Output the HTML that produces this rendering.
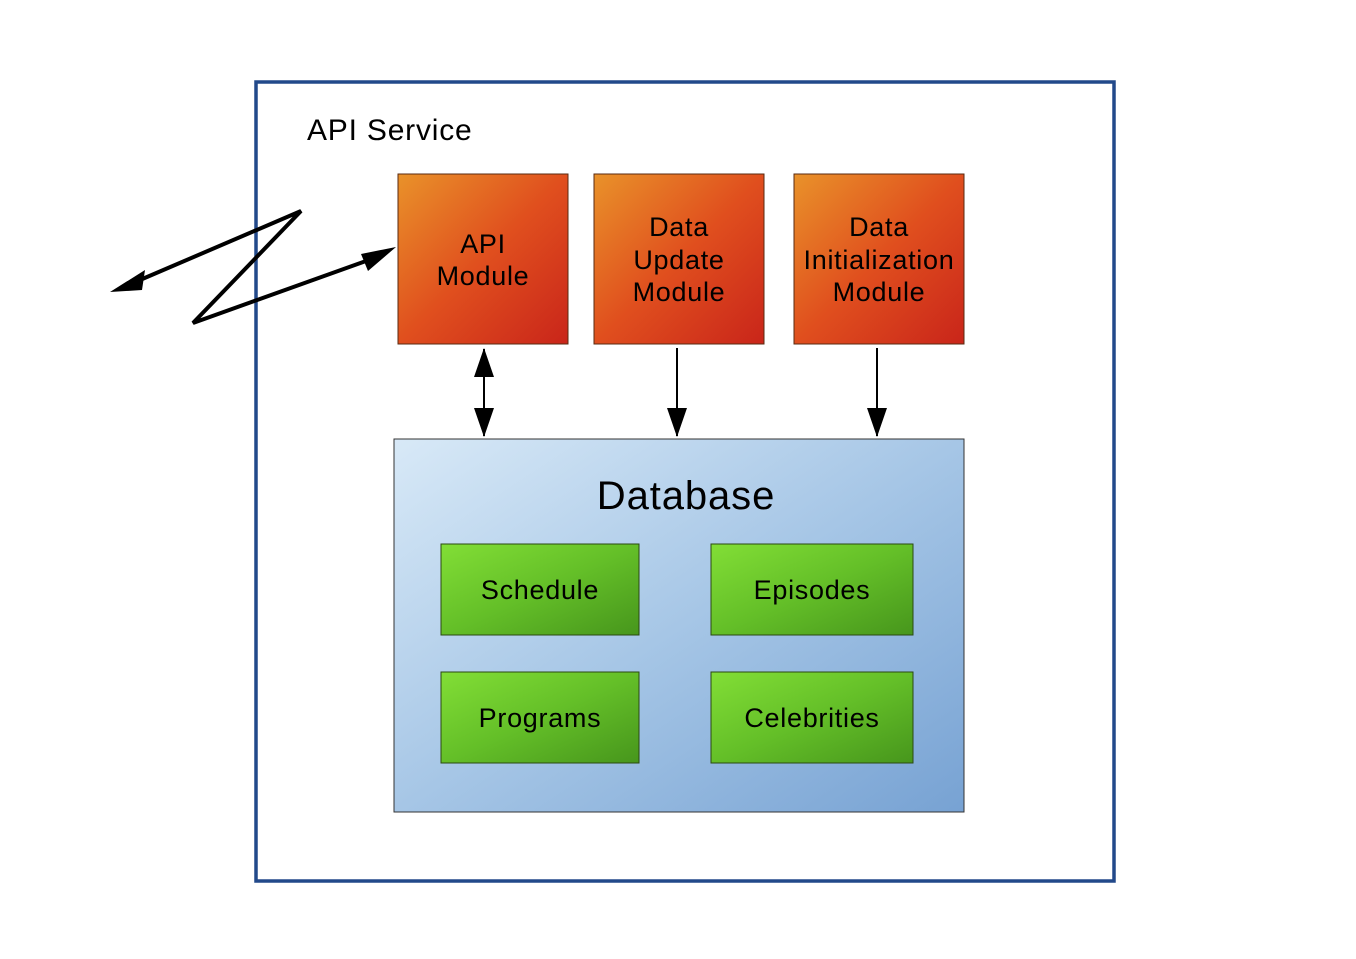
<!DOCTYPE html>
<html><head><style>body{margin:0;background:#fff}</style></head><body>
<svg width="1356" height="959" xmlns="http://www.w3.org/2000/svg" style="display:block;font-family:'Liberation Sans',sans-serif">
<defs>
<linearGradient id="o" x1="0" y1="0" x2="1" y2="1"><stop offset="0" stop-color="#e9922a"/><stop offset="0.5" stop-color="#e04f1e"/><stop offset="1" stop-color="#c9251a"/></linearGradient>
<linearGradient id="b" x1="0" y1="0" x2="1" y2="1"><stop offset="0" stop-color="#d8e9f7"/><stop offset="0.5" stop-color="#a6c6e6"/><stop offset="1" stop-color="#77a2d3"/></linearGradient>
<linearGradient id="g" x1="0" y1="0" x2="1" y2="1"><stop offset="0" stop-color="#82de36"/><stop offset="0.5" stop-color="#64bf28"/><stop offset="1" stop-color="#47961c"/></linearGradient>
</defs>
<rect x="256" y="82" width="858" height="799" fill="none" stroke="#22498a" stroke-width="3.5"/>
<text x="307" y="140" font-size="30" letter-spacing="0.8">API Service</text>
<rect x="398" y="174" width="170" height="170" fill="url(#o)" stroke="#5a2a10"/>
<rect x="594" y="174" width="170" height="170" fill="url(#o)" stroke="#5a2a10"/>
<rect x="794" y="174" width="170" height="170" fill="url(#o)" stroke="#5a2a10"/>
<g font-size="27" text-anchor="middle" fill="#000" letter-spacing="0.7">
<text x="483" y="253">API</text><text x="483" y="285">Module</text>
<text x="679" y="236">Data</text><text x="679" y="269">Update</text><text x="679" y="301">Module</text>
<text x="879" y="236">Data</text><text x="879" y="269">Initialization</text><text x="879" y="301">Module</text>
</g>
<rect x="394" y="439" width="570" height="373" fill="url(#b)" stroke="#333"/>
<text x="686" y="509" font-size="40" text-anchor="middle" letter-spacing="0.9">Database</text>
<g stroke="#2a4a10" fill="url(#g)">
<rect x="441" y="544" width="198" height="91"/><rect x="711" y="544" width="202" height="91"/>
<rect x="441" y="672" width="198" height="91"/><rect x="711" y="672" width="202" height="91"/>
</g>
<g font-size="27" text-anchor="middle" letter-spacing="0.7">
<text x="540" y="599">Schedule</text><text x="812" y="599">Episodes</text>
<text x="540" y="727">Programs</text><text x="812" y="727">Celebrities</text>
</g>
<g stroke="#000" stroke-width="2" fill="none">
<line x1="484" y1="349" x2="484" y2="436"/>
<line x1="677" y1="348" x2="677" y2="436"/>
<line x1="877" y1="348" x2="877" y2="436"/>
</g>
<g fill="#000">
<path d="M484,348L474,377L494,377z"/><path d="M484,437L474,408L494,408z"/>
<path d="M677,437L667,408L687,408z"/><path d="M877,437L867,408L887,408z"/>
<path d="M110,292L145,270L142,290z"/><path d="M396,247L368,271L361,254z"/>
</g>
<polyline points="140,280 301,211 193,323 366,261" fill="none" stroke="#000" stroke-width="4" stroke-linejoin="miter"/>
</svg>
</body></html>
